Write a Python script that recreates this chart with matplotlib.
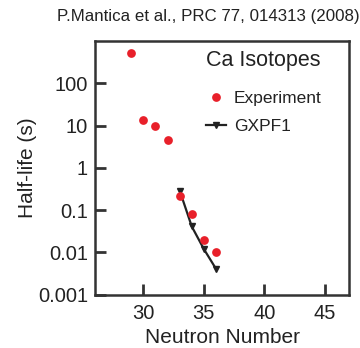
import numpy as np
import matplotlib.pyplot as plt

plt.rcParams['font.family'] = ['Liberation Sans', 'DejaVu Sans']

# Experimental half-lives of Ca isotopes
exp_n = [29, 30, 31, 32, 33, 34, 35, 36]
exp_t = [510, 13.7, 9.6, 4.5, 0.21, 0.081, 0.020, 0.0103]

# GXPF1 shell-model calculation
gx_n = [33, 34, 35, 36]
gx_t = [0.29, 0.041, 0.012, 0.0041]

xticks = [30, 35, 40, 45]
yticks = [0.001, 0.01, 0.1, 1, 10, 100]
ylabels = ['0.001', '0.01', '0.1', '1', '10', '100']

ink = '#222222'

fig = plt.figure(figsize=(3.6, 3.48), dpi=100)
ax = fig.add_axes([0.2639, 0.1532, 0.7056, 0.729])

ax.plot(gx_n, gx_t, color=ink, lw=1.6, marker='v', ms=5, label='GXPF1', zorder=2)
ax.plot(exp_n, exp_t, ls='none', marker='o', ms=6.3, color='#e8202a', mec='none',
        label='Experiment', zorder=3)

ax.set_yscale('log')
ax.set_xlim(26, 47)
ax.set_ylim(0.001, 1000)
ax.set_xticks(xticks)
ax.set_yticks(yticks)
ax.set_yticklabels(ylabels)
ax.minorticks_off()
ax.tick_params(direction='in', length=8, width=2, labelsize=14.5, colors='#333333',
               labelcolor=ink)
ax.tick_params(axis='y', pad=5)
ax.tick_params(axis='x', pad=7)
for s in ax.spines.values():
    s.set_linewidth(1.8)
    s.set_color('#333333')

ax.set_xlabel('Neutron Number', fontsize=15, color=ink, labelpad=3)
ax.set_ylabel('Half-life (s)', fontsize=15, color=ink, labelpad=1)

h, l = ax.get_legend_handles_labels()
leg = fig.legend(h[::-1], l[::-1], title='Ca Isotopes', title_fontsize=15.5, fontsize=12.5,
                 frameon=False, loc='upper left', bbox_to_anchor=(206 / 360, 1 - 50 / 348),
                 borderpad=0, borderaxespad=0,
                 handlelength=1.15, handletextpad=0.45, labelspacing=0.75, alignment='left')
for t in leg.get_texts():
    t.set_color(ink)
leg.get_title().set_color(ink)
leg._legend_box.sep = 14

fig.text(57 / 360, 0.952, 'P.Mantica et al., PRC 77, 014313 (2008)', fontsize=12.2,
         color=ink, va='center', ha='left')

fig.savefig('out.png', dpi=100)
